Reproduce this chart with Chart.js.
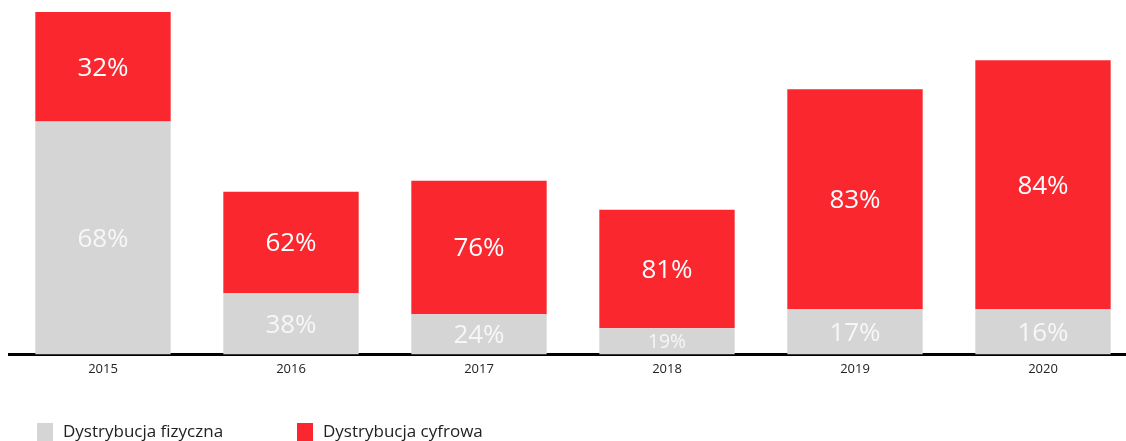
<!DOCTYPE html>
<html>
<head>
<meta charset="utf-8">
<script src="https://cdn.jsdelivr.net/npm/chart.js@4.4.0/dist/chart.umd.min.js"></script>
<style>
  html, body { margin: 0; padding: 0; background: #fff; overflow: hidden; }
  #wrap { position: relative; width: 1146px; height: 441px; }
</style>
</head>
<body>
<div id="wrap"><canvas id="c"></canvas></div>
<script>
const categories = ['2015', '2016', '2017', '2018', '2019', '2020'];
const physicalValues = [232, 61, 40, 26, 45, 45];
const digitalValues = [109, 101, 133, 118, 219, 248];
const physicalLabels = ['68%', '38%', '24%', '19%', '17%', '16%'];
const digitalLabels = ['32%', '62%', '76%', '81%', '83%', '84%'];
const seriesNames = ['Dystrybucja fizyczna', 'Dystrybucja cyfrowa'];

const GRAY = '#d5d5d5';
const RED = '#fa272f';
const FONT = '"Open Sans", Lato, sans-serif';

const labelPlugin = {
  id: 'segLabels',
  afterDatasetsDraw(chart) {
    const ctx = chart.ctx;
    const texts = [physicalLabels, digitalLabels];
    chart.data.datasets.forEach((ds, di) => {
      const meta = chart.getDatasetMeta(di);
      meta.data.forEach((el, i) => {
        const p = el.getProps(['x', 'y', 'base'], true);
        const h = Math.abs(p.base - p.y);
        const size = Math.min(26, h * 0.74);
        ctx.save();
        ctx.font = '400 ' + size + 'px ' + FONT;
        ctx.fillStyle = di === 0 ? 'rgba(255,255,255,0.8)' : '#ffffff';
        ctx.textAlign = 'center';
        ctx.textBaseline = 'middle';
        ctx.fillText(texts[di][i], p.x, (p.y + p.base) / 2 + 1.5);
        ctx.restore();
      });
    });
  }
};

const legendPlugin = {
  id: 'customLegend',
  afterDraw(chart) {
    const ctx = chart.ctx;
    const items = [
      { x: 37, text: seriesNames[0], color: GRAY },
      { x: 297, text: seriesNames[1], color: RED }
    ];
    ctx.save();
    items.forEach(it => {
      ctx.fillStyle = it.color;
      ctx.fillRect(it.x, 423, 16, 19);
      ctx.fillStyle = '#222222';
      ctx.font = '400 17px ' + FONT;
      ctx.textAlign = 'left';
      ctx.textBaseline = 'alphabetic';
      ctx.fillText(it.text, it.x + 26, 437);
    });
    ctx.restore();
  }
};

new Chart(document.getElementById('c'), {
  type: 'bar',
  data: {
    labels: categories,
    datasets: [
      { label: seriesNames[0], data: physicalValues, backgroundColor: GRAY, borderWidth: 0 },
      { label: seriesNames[1], data: digitalValues, backgroundColor: RED, borderWidth: 0 }
    ]
  },
  options: {
    responsive: true,
    maintainAspectRatio: false,
    animation: false,
    layout: { padding: { left: 9, right: 9, top: 0, bottom: 57 } },
    plugins: {
      legend: { display: false },
      tooltip: { enabled: false }
    },
    datasets: { bar: { categoryPercentage: 1.0, barPercentage: 0.72 } },
    scales: {
      x: {
        stacked: true,
        grid: { display: true, drawOnChartArea: false, drawTicks: false },
        border: { display: true, color: '#000000', width: 3 },
        ticks: { color: '#222222', font: { family: FONT, size: 13 }, padding: 7 }
      },
      y: {
        stacked: true,
        display: false,
        min: 0,
        max: 353
      }
    }
  },
  plugins: [labelPlugin, legendPlugin]
});
</script>
</body>
</html>
